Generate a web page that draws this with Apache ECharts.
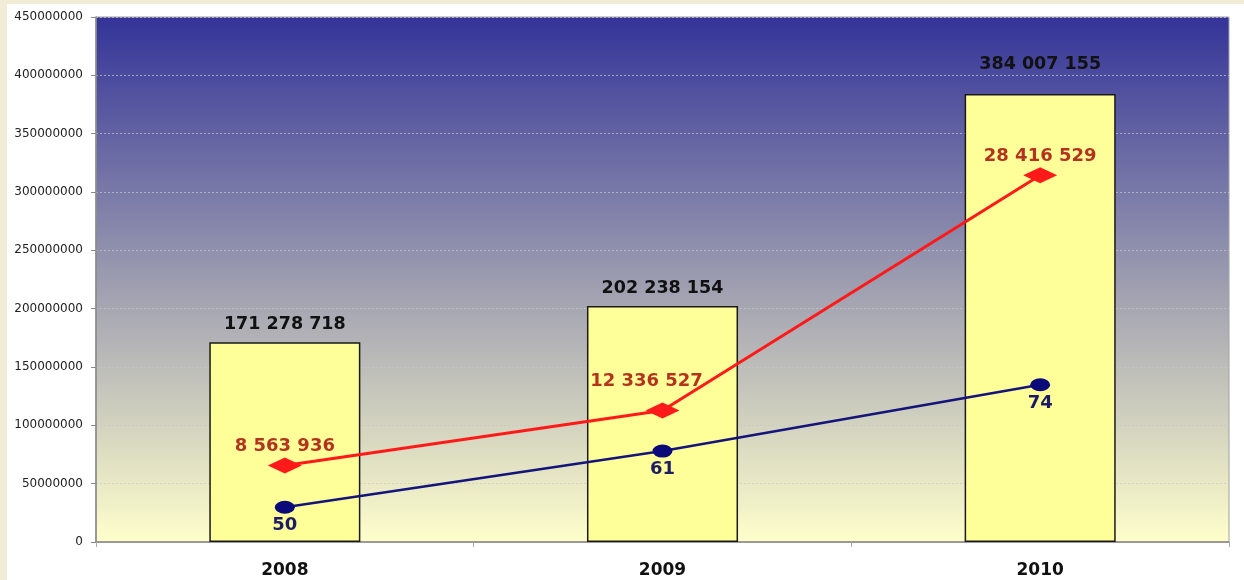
<!DOCTYPE html>
<html>
<head>
<meta charset="utf-8">
<script src="https://cdn.jsdelivr.net/npm/echarts@6/dist/echarts.min.js"></script>
<style>
  html, body { margin: 0; padding: 0; background: #f2ebd5; }
  #paper { position: absolute; left: 7px; top: 4px; right: 0; bottom: 0; background: #ffffff; }
  #chart { position: absolute; left: 0; top: 0; width: 1244px; height: 580px; }
</style>
</head>
<body>
<div id="paper"></div>
<div id="chart"></div>
<script>
const years = ['2008', '2009', '2010'];
const barValues = [171278718, 202238154, 384007155];
const redValues = [8563936, 12336527, 28416529];
const blueValues = [50, 61, 74];
const yTicks = [0, 50000000, 100000000, 150000000, 200000000, 250000000, 300000000, 350000000, 400000000, 450000000];

function spaced(v) {
  return String(v).replace(/\B(?=(\d{3})+(?!\d))/g, ' ');
}

const FONT = '"DejaVu Sans", sans-serif';
const chart = echarts.init(document.getElementById('chart'), null, { renderer: 'canvas' });

const barData = barValues.map(function (v, i) {
  const item = { value: v };
  if (i === 2) item.label = { offset: [0, -12] };
  return item;
});
const redData = redValues.map(function (v, i) {
  const item = { value: v };
  if (i === 1) item.label = { offset: [-16, -10] };
  return item;
});

chart.setOption({
  animation: false,
  backgroundColor: 'transparent',
  grid: {
    left: 96, right: 15, top: 17, bottom: 38,
    show: true,
    borderColor: '#a0a0a0',
    borderWidth: 1,
    backgroundColor: {
      type: 'linear', x: 0, y: 0, x2: 0, y2: 1,
      colorStops: [
        { offset: 0, color: '#333399' },
        { offset: 0.5, color: '#9c9cb0' },
        { offset: 1, color: '#ffffcc' }
      ]
    }
  },
  xAxis: {
    type: 'category',
    data: years,
    boundaryGap: true,
    axisLine: { show: true, lineStyle: { color: '#888888', width: 1.5 } },
    axisTick: { show: true, length: 5, lineStyle: { color: '#aaaaaa' } },
    axisLabel: { color: '#111111', fontFamily: FONT, fontSize: 17, fontWeight: 'bold', margin: 20 },
    splitLine: { show: false }
  },
  yAxis: [
    {
      type: 'value',
      min: yTicks[0],
      max: yTicks[yTicks.length - 1],
      interval: yTicks[1] - yTicks[0],
      axisLine: { show: true, lineStyle: { color: '#888888', width: 1.5 } },
      axisTick: { show: true, length: 5, lineStyle: { color: '#888888' } },
      axisLabel: {
        color: '#222222', fontFamily: FONT, fontSize: 12, margin: 13,
        formatter: function (v) { return String(v); }
      },
      splitLine: { show: true, lineStyle: { color: 'rgba(200,200,200,0.7)', type: [2, 2], width: 1 } }
    },
    { type: 'value', show: false, min: 3337000, max: 39245000, splitLine: { show: false } },
    { type: 'value', show: false, min: 43.19, max: 146.05, splitLine: { show: false } }
  ],
  series: [
    {
      type: 'bar',
      data: barData,
      yAxisIndex: 0,
      barWidth: '40%',
      itemStyle: { color: '#ffff99', borderColor: '#1a1a1a', borderWidth: 1.5 },
      label: {
        show: true, position: 'top', distance: 9,
        color: '#111111', fontFamily: FONT, fontSize: 17.5, fontWeight: 'bold',
        formatter: function (p) { return spaced(p.value); }
      },
      z: 2
    },
    {
      type: 'line',
      data: redData,
      yAxisIndex: 1,
      symbol: 'diamond',
      symbolSize: [34, 16],
      lineStyle: { color: '#ff1a1a', width: 3 },
      itemStyle: { color: '#ff1a1a' },
      label: {
        show: true, position: 'top', distance: 2,
        color: '#b3341e', fontFamily: FONT, fontSize: 18, fontWeight: 'bold',
        formatter: function (p) { return spaced(p.value); }
      },
      z: 4
    },
    {
      type: 'line',
      data: blueValues,
      yAxisIndex: 2,
      symbol: 'circle',
      symbolSize: [20, 13],
      lineStyle: { color: '#14147a', width: 2.5 },
      itemStyle: { color: '#0a0a78' },
      label: {
        show: true, position: 'bottom', distance: 3,
        color: '#1c1c66', fontFamily: FONT, fontSize: 18, fontWeight: 'bold'
      },
      z: 3
    }
  ]
});
</script>
</body>
</html>
